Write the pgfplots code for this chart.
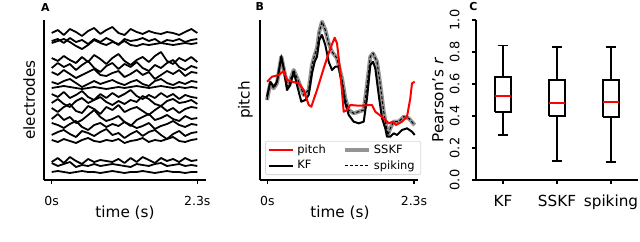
\documentclass[border=0pt]{standalone}
\usepackage{fontspec}
\setmainfont{DejaVu Sans}
\usepackage{pgfplots}
\pgfplotsset{compat=1.18}
\usepackage{pgfplotstable}

\pgfplotstableread{
x t1 t2 t3 t4 t5 t6 t7 t8 t9 t10 t11 t12 t13 t14 t15 t16 t17 t18
51.7 147 139 137 122 112 108 98 92 86 77 72 61 57 45 40 18 17 8
57.8 150 141 139 119 117 105 96 93 83 81 68 66 55 48 38 22 14 9
63.8 145 137 141 124 113 110 99 94 88 76 73 60 52 50 41 17 16 8
69.9 151 142 138 120 116 106 101 93 82 73 76 63 56 46 39 23 18 7
76.0 148 138 134 117 110 102 97 92 85 79 69 57 59 43 37 19 13 8
82.0 144 140 131 123 115 105 93 91 89 82 67 60 53 49 40 16 15 9
88.1 149 136 135 118 119 108 96 92 83 77 74 65 50 47 42 21 14 8
94.2 152 141 140 125 112 111 99 93 80 80 71 70 55 44 39 18 16 8
100.3 146 138 137 121 108 105 96 92 86 83 66 63 57 48 38 20 14 7
106.3 150 142 135 116 114 104 98 91 82 78 73 59 53 51 40 19 15 8
112.4 153 139 138 122 117 107 100 92 87 75 70 61 56 45 39 18 16 9
118.5 147 135 136 126 111 109 97 93 83 79 75 64 54 47 41 21 15 8
124.5 145 141 139 119 116 103 95 92 86 76 68 58 58 42 37 17 14 7
130.6 151 139 135 115 113 106 98 93 90 80 71 54 55 46 39 22 13 8
136.7 148 140 134 120 118 110 100 94 84 78 73 60 52 49 40 18 16 8
142.7 146 142 136 123 112 105 96 93 81 84 69 63 54 44 42 23 15 9
148.8 149 139 135 118 109 108 94 92 85 81 65 66 57 48 38 20 14 8
154.9 147 141 136 124 115 101 99 93 82 76 70 60 51 50 40 17 16 7
161.0 146 137 137 128 112 105 101 94 87 74 74 62 54 45 39 22 17 8
167.0 148 140 136 119 117 109 97 93 83 79 69 65 56 41 41 19 14 9
173.1 147 139 135 116 120 106 95 92 86 81 72 61 59 46 43 21 15 8
179.2 145 141 136 122 113 110 98 93 81 77 67 59 55 49 39 18 16 8
185.2 148 138 137 119 110 104 96 92 85 78 71 64 53 44 38 22 14 7
191.3 151 140 136 123 114 108 99 93 83 80 73 61 56 47 40 19 15 8
197.3 147 141 137 118 112 107 98 92 82 76 72 62 55 48 41 20 14 8
}\tracesA

\pgfplotsset{
  myaxis/.style={
    scale only axis,
    axis x line*=bottom, axis y line*=left,
    axis line style={line width=1.5bp, -},
    tick align=outside,
    major tick length=4bp,
    every tick/.style={black, line width=1.2bp},
    label style={font=\fontsize{15.3}{18}\selectfont},
    tick label style={font=\fontsize{12.5}{14}\selectfont},
    xticklabel style={anchor=base, yshift=-21bp},
    xlabel style={anchor=base},
    ylabel style={anchor=base, rotate=0},
  },
  legend image code/.code={\draw[#1] (0bp,0bp) -- (24bp,0bp);},
}

\begin{document}
\begin{tikzpicture}
\useasboundingbox (0,0) rectangle (640bp,242bp);

% Panel A
\begin{axis}[myaxis,
  at={(44bp,62bp)}, anchor=south west,
  width=161.7bp, height=160bp,
  xmin=44, xmax=205.7, ymin=0, ymax=160,
  xtick={51.7,197.3}, xticklabels={0s,2.3s},
  ytick=\empty,
  xlabel={time (s)},
  xlabel style={at={(axis description cs:0.501,-0.234)}},
  ylabel={electrodes},
  ylabel style={at={(axis description cs:-0.0557,0.5)}},
]
\pgfplotsinvokeforeach{1,...,18}{
  \addplot[black, line width=1.8bp, line join=round] table[x=x, y=t#1] {\tracesA};
}
\end{axis}

% Panel B
\begin{axis}[myaxis,
  at={(260bp,62bp)}, anchor=south west,
  width=158bp, height=160bp,
  xmin=260, xmax=418, ymin=0, ymax=160,
  xtick={267.3,414}, xticklabels={0s,2.3s},
  ytick=\empty,
  xlabel={time (s)},
  xlabel style={at={(axis description cs:0.506,-0.234)}},
  ylabel={pitch},
  ylabel style={at={(axis description cs:-0.066,0.5)}},
  legend columns=2,
  legend cell align=left,
  legend style={at={(axis description cs:0.032,0.031)}, anchor=south west,
    draw=black!15, line width=0.8bp, rounded corners=2bp,
    fill=white, fill opacity=0.8, text opacity=1,
    font=\fontsize{11.5}{13}\selectfont,
    inner xsep=3bp, inner ysep=2bp, row sep=1bp,
    nodes={inner xsep=3bp},
    /tikz/every even column/.append style={column sep=14bp}},
]
% SSKF (gray band)
\addplot[black!42, line width=4bp, line join=round, forget plot] coordinates {
(267,80) (270.3,96.7) (273.7,91.7) (277,96.7) (281.3,123.3) (284.7,106.7) (288,93.3) (293.7,110) (298.7,98.3) (303.7,85) (308.7,90) (312,115) (314.7,125) (317,131.7) (319.3,148.3) (322,158.3) (325.3,150) (328.7,136.7) (332,128.3) (337,121.7) (342,101.7) (345.3,81.7) (348.7,70) (353.7,66.7) (358.7,68.3) (363.7,70) (367,95) (370.3,123.3) (373,126.7) (377,118.3) (380.3,95) (383.7,68.3) (386,55) (388,45) (390.3,51.7) (393.7,58.3) (398.7,58.3) (403.7,63.3) (408.7,61.7) (414.7,55)
};
% spiking (dashed)
\addplot[black, line width=1bp, dash pattern=on 3bp off 2bp, forget plot] coordinates {
(267,80) (270.3,96.7) (273.7,91.7) (277,96.7) (281.3,123.3) (284.7,106.7) (288,93.3) (293.7,110) (298.7,98.3) (303.7,85) (308.7,90) (312,115) (314.7,125) (317,131.7) (319.3,148.3) (322,158.3) (325.3,150) (328.7,136.7) (332,128.3) (337,121.7) (342,101.7) (345.3,81.7) (348.7,70) (353.7,66.7) (358.7,68.3) (363.7,70) (367,95) (370.3,123.3) (373,126.7) (377,118.3) (380.3,95) (383.7,68.3) (386,55) (388,45) (390.3,51.7) (393.7,58.3) (398.7,58.3) (403.7,63.3) (408.7,61.7) (414.7,55)
};
% KF
\addplot[black, line width=2bp, line join=round, forget plot] coordinates {
(267,83.3) (270.3,98.3) (273.7,93.3) (277,98.3) (281.3,123.3) (283.7,111.7) (287,90) (290.3,95) (293.7,108.3) (297,95) (301.3,78.3) (305.3,80) (308.7,85) (312,106.7) (314.7,118.3) (317,123.3) (319.3,140) (322,145) (325.3,135) (328.7,118.3) (332,110) (335.3,113.3) (338.7,113.3) (342,95) (345.3,76.7) (348.7,65) (353.7,58.3) (358.7,56.7) (363.7,58.3) (367,81.7) (370.3,115) (373,118.3) (375.3,111.7) (378.7,85) (382,61.7) (385.3,51.7) (387,43.3) (390.3,43.3) (393.7,46.7) (397,45) (402,50) (407,51.7) (412,48.3) (414.7,45)
};
% pitch
\addplot[red, line width=2bp, line join=round, forget plot] coordinates {
(267,98.3) (272,103.3) (278.7,105) (283.7,109) (287,100) (292,98.3) (298.7,96.7) (303.7,90) (308.7,75) (311.3,73.3) (317,90) (323.7,111.7) (330.3,131.7) (334.7,142.3) (337,136.7) (340.3,108.3) (343.7,68.3) (347,70) (350.3,75) (358.7,74.3) (372,75) (375.3,68.3) (383.7,61.7) (388.7,56.7) (393,58.3) (396,55) (402,58.3) (407,63.3) (410.3,81.7) (412,96.7) (414.7,98.3)
};
\addlegendimage{red, line width=2bp}
\addlegendentry{pitch}
\addlegendimage{black!42, line width=4bp}
\addlegendentry{SSKF}
\addlegendimage{black, line width=2bp}
\addlegendentry{KF}
\addlegendimage{black, line width=1bp, dash pattern=on 3bp off 2bp}
\addlegendentry{spiking}
\end{axis}

% Panel C
\begin{axis}[myaxis,
  at={(476bp,62bp)}, anchor=south west,
  width=162bp, height=160bp,
  xmin=0.5, xmax=3.5, ymin=0, ymax=1,
  xtick={1,2,3}, xticklabels={KF,SSKF,spiking},
  xticklabel style={font=\fontsize{15.3}{18}\selectfont, yshift=-1bp},
  ytick={0,0.2,0.4,0.6,0.8,1},
  yticklabel={\pgfmathprintnumber[fixed,fixed zerofill,precision=1,assume math mode=true]{\tick}},
  yticklabel style={font=\fontsize{13}{15}\selectfont, xshift=-12.7bp, rotate=90, anchor=base},
  ylabel={Pearson's \textit{r}},
  ylabel style={at={(axis description cs:-0.202,0.5)}},
  unbounded coords=jump,
]
% boxes, whiskers and caps (KF, SSKF, spiking)
\addplot[black, line width=1.8bp, line join=miter] coordinates {
(0.845,0.423) (1.155,0.423) (1.155,0.642) (0.845,0.642) (0.845,0.423) (nan,nan)
(1,0.642) (1,0.84) (nan,nan) (0.9,0.84) (1.1,0.84) (nan,nan)
(1,0.423) (1,0.281) (nan,nan) (0.9,0.281) (1.1,0.281) (nan,nan)
(1.845,0.398) (2.155,0.398) (2.155,0.623) (1.845,0.623) (1.845,0.398) (nan,nan)
(2,0.623) (2,0.833) (nan,nan) (1.9,0.833) (2.1,0.833) (nan,nan)
(2,0.398) (2,0.119) (nan,nan) (1.9,0.119) (2.1,0.119) (nan,nan)
(2.845,0.396) (3.155,0.396) (3.155,0.623) (2.845,0.623) (2.845,0.396) (nan,nan)
(3,0.623) (3,0.833) (nan,nan) (2.9,0.833) (3.1,0.833) (nan,nan)
(3,0.396) (3,0.113) (nan,nan) (2.9,0.113) (3.1,0.113)
};
% medians
\addplot[red, line width=1.8bp] coordinates {
(0.855,0.523) (1.145,0.523) (nan,nan)
(1.855,0.483) (2.145,0.483) (nan,nan)
(2.855,0.485) (3.145,0.485)
};
\end{axis}

% panel letters
\node[anchor=base, font=\fontsize{11}{13}\selectfont\bfseries] at (45.3bp,230.5bp) {A};
\node[anchor=base, font=\fontsize{11}{13}\selectfont\bfseries] at (259.7bp,231.5bp) {B};
\node[anchor=base, font=\fontsize{11}{13}\selectfont\bfseries] at (473.3bp,231bp) {C};
\end{tikzpicture}
\end{document}
